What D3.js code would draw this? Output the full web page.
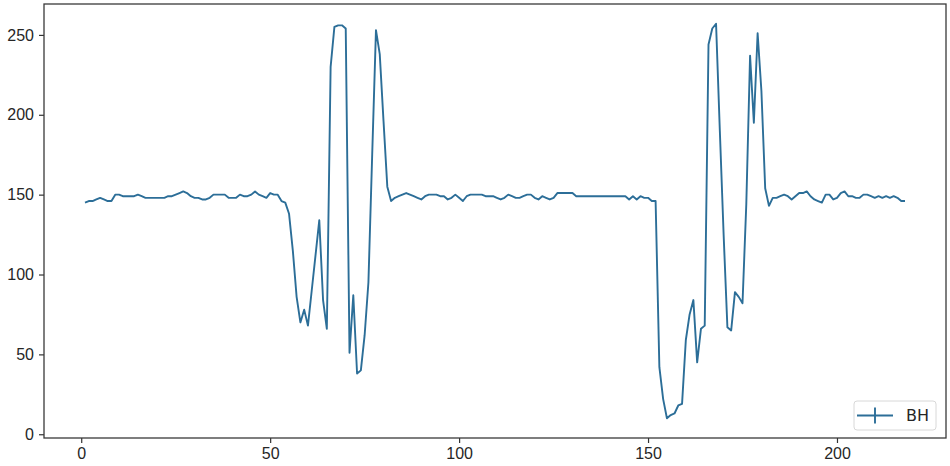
<!DOCTYPE html>
<html>
<head>
<meta charset="utf-8">
<script src="https://cdn.jsdelivr.net/npm/d3@7"></script>
<style>
  html, body { margin: 0; padding: 0; background: #fff; }
  svg { display: block; font-family: "DejaVu Sans", sans-serif; }
  .axis text { font-size: 16px; fill: #262626; }
  .axis line { stroke: #333; stroke-width: 1.2; }
  .axis path { display: none; }
  .frame { fill: none; stroke: #3a3a3a; stroke-width: 1.3; }
  .line { fill: none; stroke: #2c6e98; stroke-width: 1.9; stroke-linejoin: round; }
</style>
</head>
<body>
<svg id="chart" width="950" height="466"></svg>
<script>
// sample index starts at 1
const xStart = 1;
const seriesName = 'BH';

const bhValues = [
  145, 146, 146, 147, 148, 147, 146, 146, 150, 150,
  149, 149, 149, 149, 150, 149, 148, 148, 148, 148,
  148, 148, 149, 149, 150, 151, 152, 151, 149, 148,
  148, 147, 147, 148, 150, 150, 150, 150, 148, 148,
  148, 150, 149, 149, 150, 152, 150, 149, 148, 151,
  150, 150, 146, 145, 138, 115, 86, 70, 78, 68,
  90, 112, 134, 84, 66, 230, 255, 256, 256, 254,
  51, 87, 38, 40, 62, 95, 175, 253, 238, 196,
  155, 146, 148, 149, 150, 151, 150, 149, 148, 147,
  149, 150, 150, 150, 149, 149, 147, 148, 150, 148,
  146, 149, 150, 150, 150, 150, 149, 149, 149, 148,
  147, 148, 150, 149, 148, 148, 149, 150, 150, 148,
  147, 149, 148, 147, 148, 151, 151, 151, 151, 151,
  149, 149, 149, 149, 149, 149, 149, 149, 149, 149,
  149, 149, 149, 149, 147, 149, 147, 149, 148, 148,
  146, 146, 42, 22, 10, 12, 13, 18, 19, 59,
  75, 84, 45, 66, 68, 244, 254, 257, 190, 125,
  67, 65, 89, 86, 82, 144, 237, 195, 251, 215,
  154, 143, 148, 148, 149, 150, 149, 147, 149, 151,
  151, 152, 149, 147, 146, 145, 150, 150, 147, 148,
  151, 152, 149, 149, 148, 148, 150, 150, 149, 148,
  149, 148, 149, 148, 149, 148, 146, 146
];

const xTicks = [0, 50, 100, 150, 200];
const yTicks = [0, 50, 100, 150, 200, 250];

const svg = d3.select('#chart');
const margin = { top: 4, right: 4, bottom: 28, left: 44 };
const width = 950 - margin.left - margin.right;
const height = 466 - margin.top - margin.bottom;

const g = svg.append('g').attr('transform', `translate(${margin.left},${margin.top})`);

// matplotlib style 5% margins around the data
function padded(ext) {
  const pad = (ext[1] - ext[0]) * 0.05;
  return [ext[0] - pad, ext[1] + pad];
}

const x = d3.scaleLinear()
  .domain(padded([xStart, xStart + bhValues.length - 1]))
  .range([0, width]);

const y = d3.scaleLinear()
  .domain(padded(d3.extent(bhValues)))
  .range([height, 0]);

// X axis
g.append('g')
  .attr('class', 'axis')
  .attr('transform', `translate(0,${height})`)
  .call(d3.axisBottom(x).tickValues(xTicks).tickSize(5).tickPadding(5).tickFormat(d3.format('d')));

// Y axis
g.append('g')
  .attr('class', 'axis')
  .call(d3.axisLeft(y).tickValues(yTicks).tickSize(5).tickPadding(5).tickFormat(d3.format('d')));

// line
const line = d3.line()
  .x((d, i) => x(xStart + i))
  .y(d => y(d));

g.append('path')
  .datum(bhValues)
  .attr('class', 'line')
  .attr('d', line);

// frame
g.append('rect')
  .attr('class', 'frame')
  .attr('width', width)
  .attr('height', height);

// legend, lower right
const legend = g.append('g').attr('transform', `translate(${width - 92},${height - 37})`);
legend.append('rect')
  .attr('width', 82).attr('height', 29).attr('rx', 3)
  .attr('fill', '#fff').attr('stroke', '#d8d8d8').attr('stroke-width', 1);
legend.append('line')
  .attr('x1', 3).attr('x2', 39).attr('y1', 14.5).attr('y2', 14.5)
  .attr('stroke', '#2c6e98').attr('stroke-width', 1.9);
legend.append('line')
  .attr('x1', 21).attr('x2', 21).attr('y1', 6.5).attr('y2', 22.5)
  .attr('stroke', '#2c6e98').attr('stroke-width', 1.9);
legend.append('text')
  .attr('x', 52).attr('y', 20)
  .attr('font-size', 16).attr('fill', '#262626')
  .text(seriesName);
</script>
</body>
</html>
